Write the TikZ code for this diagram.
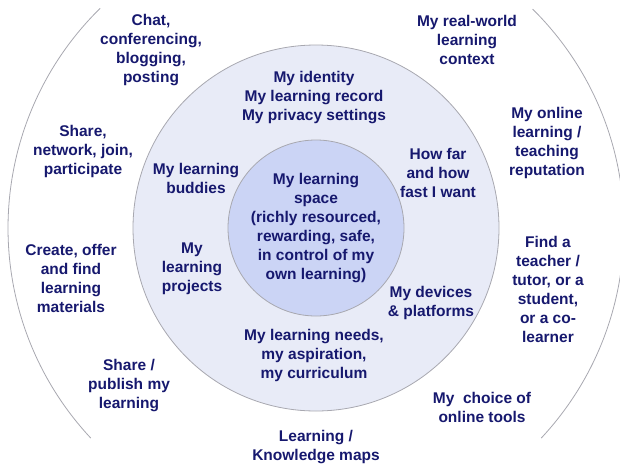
\documentclass[tikz,border=0pt]{standalone}
\usepackage{fontspec}
\setmainfont{Liberation Sans}
\definecolor{navy}{HTML}{16186E}
\definecolor{midfill}{HTML}{E8EBF7}
\definecolor{innerfill}{HTML}{CBD4F5}
\definecolor{ring}{HTML}{A8A8B0}
\tikzset{
  lbl/.style={text=navy, font=\bfseries\fontsize{15.5}{19}\selectfont, align=center, inner sep=0pt},
  ringline/.style={draw=ring, line width=0.8pt}
}
\begin{document}
\begin{tikzpicture}[x=1pt,y=1pt]
\useasboundingbox (0,0) rectangle (620,-466);
\coordinate (c) at (316,-228);
% outer arcs
\draw[ringline] ([shift={(134.5:308)}]c) arc[start angle=134.5, end angle=223, radius=308];
\draw[ringline] ([shift={(-43:308)}]c) arc[start angle=-43, end angle=45.3, radius=308];
% middle and inner circles
\node[ringline, fill=midfill, circle, minimum size=366pt, inner sep=0pt] (mid) at (c) {};
\node[ringline, fill=innerfill, circle, minimum size=176pt, inner sep=0pt] (inner) at (c) {};
% inner text
\node[lbl] (space) at (316,-228) {My learning\\space\\(richly resourced,\\rewarding, safe,\\in control of my\\own learning)};
% middle ring texts
\node[lbl] (identity) at (314,-98) {My identity\\My learning record\\My privacy settings};
\node[lbl] (buddies) at (196,-178) {My learning\\buddies};
\node[lbl] (howfar) at (438,-173) {How far\\and how\\fast I want};
\node[lbl] (projects) at (192,-269) {My\\learning\\projects};
\node[lbl] (devices) at (431,-303) {My devices\\\& platforms};
\node[lbl] (needs) at (314,-355) {My learning needs,\\my aspiration,\\my curriculum};
% outer ring texts
\node[lbl] (chat) at (151,-50) {Chat,\\conferencing,\\blogging,\\posting};
\node[lbl] (share) at (83,-151) {Share,\\network, join,\\participate};
\node[lbl] (create) at (71,-278) {Create, offer\\and find\\learning\\materials};
\node[lbl] (publish) at (129,-386) {Share /\\publish my\\learning};
\node[lbl] (maps) at (316,-447) {Learning /\\Knowledge maps};
\node[lbl] (tools) at (482,-407) {My\ \ choice of\\online tools};
\node[lbl] (teacher) at (548,-289) {Find a\\teacher /\\tutor, or a\\student,\\or a co-\\learner};
\node[lbl] (reputation) at (547,-143) {My online\\learning /\\teaching\\reputation};
\node[lbl] (context) at (467,-40) {My real-world\\learning\\context};
\end{tikzpicture}
\end{document}
